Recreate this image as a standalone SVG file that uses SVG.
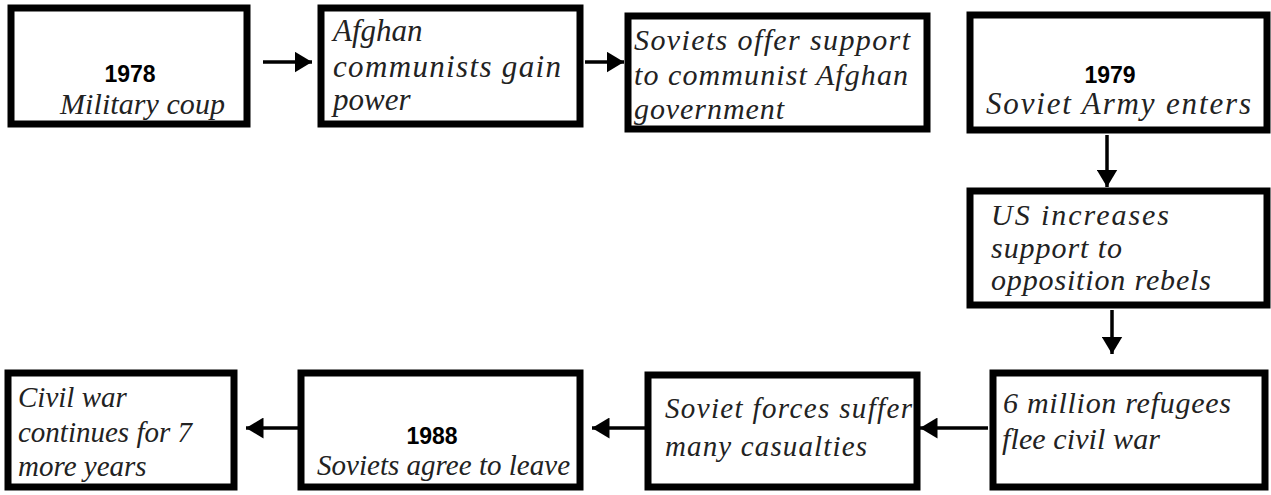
<svg xmlns="http://www.w3.org/2000/svg" width="1271" height="495" viewBox="0 0 1271 495">
<defs>
<style>
.box{fill:#fff;stroke:#000;stroke-width:7}
.c{fill:none;stroke:#000;stroke-width:3.5}
.yr{font-family:'Liberation Sans',Arial,sans-serif;font-style:normal;font-weight:bold;font-size:23px;fill:#000}
</style>
<marker id="ah" markerWidth="6" markerHeight="6" refX="5" refY="3" orient="auto" markerUnits="strokeWidth"><path d="M0,0 L5,3 L0,6 Z" fill="#000"/></marker>
</defs>
<g id="connectors">
<line class="c" x1="263" y1="62" x2="312" y2="62" marker-end="url(#ah)"/>
<line class="c" x1="585" y1="62" x2="624" y2="62" marker-end="url(#ah)"/>
<line class="c" x1="1107" y1="135" x2="1107" y2="187" marker-end="url(#ah)"/>
<line class="c" x1="1112" y1="310" x2="1112" y2="354" marker-end="url(#ah)"/>
<line class="c" x1="988" y1="428" x2="920" y2="428" marker-end="url(#ah)"/>
<line class="c" x1="645" y1="428" x2="592" y2="428" marker-end="url(#ah)"/>
<line class="c" x1="298" y1="428" x2="246" y2="428" marker-end="url(#ah)"/>
</g>
<g font-family="Liberation Serif, DejaVu Serif, serif" font-style="italic" font-size="29" fill="#222">
<g id="n1978">
<rect class="box" x="11" y="8" width="236" height="116"/>
<text class="yr" x="130" y="82" text-anchor="middle">1978</text>
<text x="60" y="114" font-size="30" textLength="165">Military coup</text>
</g>
<g id="nAfghan">
<rect class="box" x="321" y="8" width="259" height="116"/>
<text x="333" y="41" font-size="31">Afghan</text>
<text x="333" y="77" font-size="31" textLength="228">communists  gain</text>
<text x="333" y="110" font-size="31">power</text>
</g>
<g id="nSovietsOffer">
<rect class="box" x="628" y="16" width="299" height="113"/>
<text x="634" y="50" font-size="30" textLength="276">Soviets  offer  support</text>
<text x="634" y="85" font-size="30" textLength="274">to  communist  Afghan</text>
<text x="634" y="119" font-size="30" textLength="150">government</text>
</g>
<g id="n1979">
<rect class="box" x="970" y="15" width="297" height="115"/>
<text class="yr" x="1110" y="83" text-anchor="middle">1979</text>
<text x="986" y="114" font-size="31" textLength="265">Soviet Army enters</text>
</g>
<g id="nUS">
<rect class="box" x="970" y="191" width="297" height="114"/>
<text x="991" y="225" font-size="30" textLength="178">US  increases</text>
<text x="991" y="258" font-size="30" textLength="131">support  to</text>
<text x="991" y="290" font-size="30" textLength="220">opposition  rebels</text>
</g>
<g id="nRefugees">
<rect class="box" x="993" y="373" width="272" height="114"/>
<text x="1003" y="413" font-size="30" textLength="228">6 million refugees</text>
<text x="1002" y="449" font-size="30" textLength="158">flee civil war</text>
</g>
<g id="nSovietForces">
<rect class="box" x="648" y="375" width="269" height="112"/>
<text x="665" y="418" textLength="247">Soviet  forces  suffer</text>
<text x="665" y="456" textLength="202">many  casualties</text>
</g>
<g id="n1988">
<rect class="box" x="301" y="373" width="279" height="114"/>
<text class="yr" x="432" y="444" text-anchor="middle">1988</text>
<text x="317" y="475" textLength="253">Soviets agree to leave</text>
</g>
<g id="nCivilWar">
<rect class="box" x="8" y="373" width="226" height="114"/>
<text x="18" y="407">Civil war</text>
<text x="18" y="442">continues for 7</text>
<text x="18" y="476">more years</text>
</g>
</g>
</svg>
